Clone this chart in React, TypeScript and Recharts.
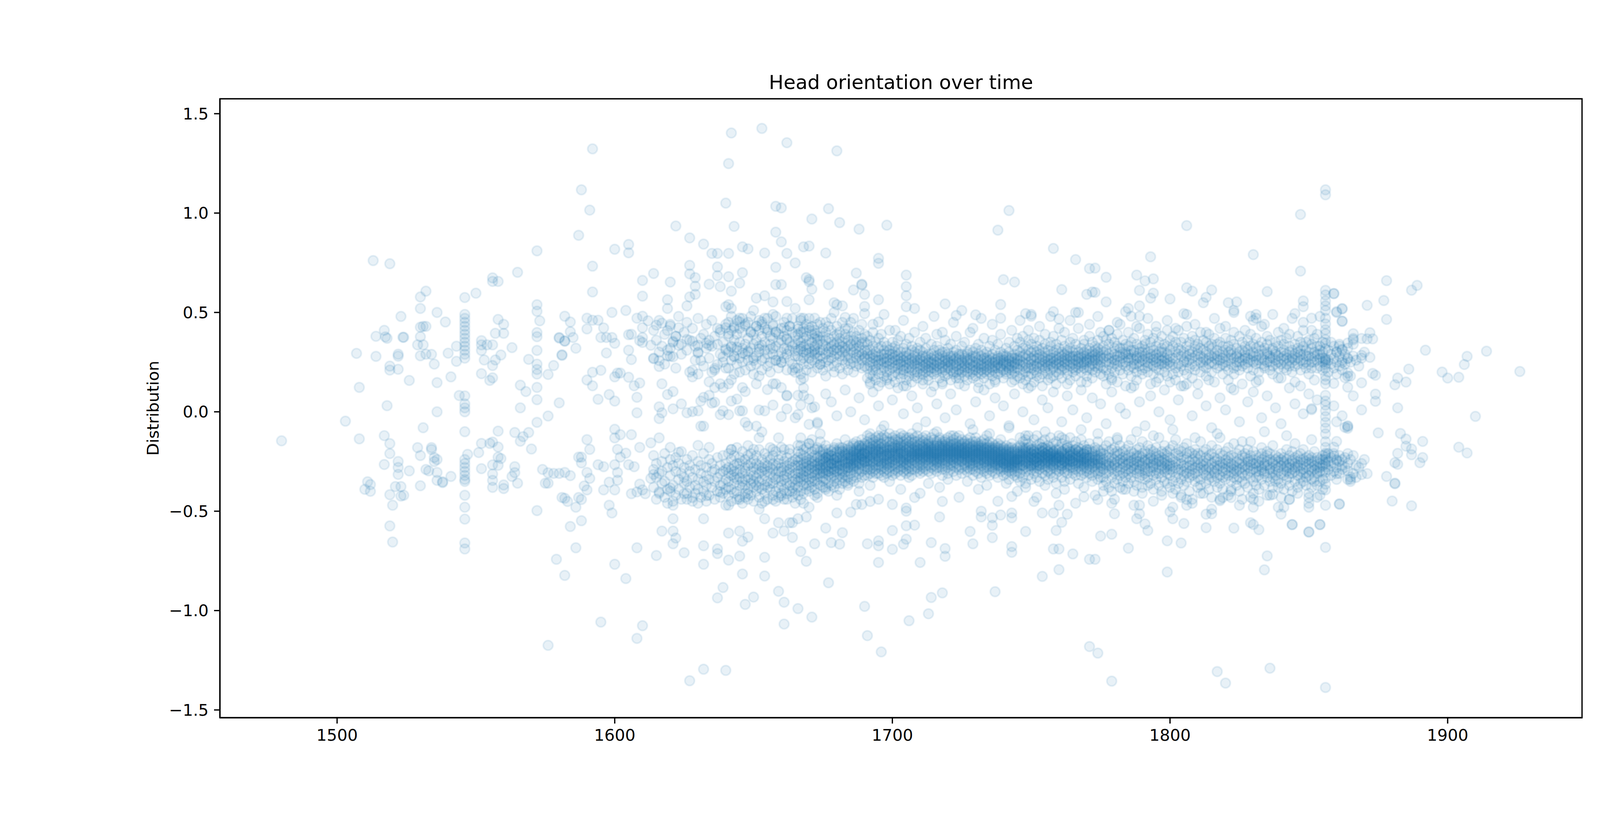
import { ScatterChart, Scatter, XAxis, YAxis, ReferenceArea } from 'recharts';

// axis limits and ticks (matplotlib auto-margins around the data)
const xDomain = [1457.8, 1948.4];
const yDomain = [-1.539, 1.575];
const xTicks = [1500, 1600, 1700, 1800, 1900];
const yTicks = [-1.5, -1.0, -0.5, 0, 0.5, 1.0, 1.5];

// sparse early points, x < 1575
const earlyPoints = [
  [1480, -.146], [1513, .761], [1519, .745], [1503, -.047], [1507, .294], [1508, .123], [1508, -.136], [1514, .38],
  [1517, .41], [1517.4, .377], [1518, .37], [1514, .279], [1519, .23], [1519, .21], [1522, .29], [1522, .28],
  [1522, .214], [1523, .48], [1523.7, .375], [1524, .375], [1526, .158], [1518, .031], [1517, -.12], [1519, -.16],
  [1519, -.21], [1517, -.265], [1522, -.25], [1522, -.28], [1522, -.315], [1521, -.376], [1523, -.376], [1519, -.417],
  [1520, -.47], [1523, -.424], [1524, -.42], [1511, -.352], [1512, -.366], [1510, -.39], [1512, -.4], [1519, -.574],
  [1520, -.655], [1526, -.297], [1529, -.18], [1530, -.22], [1531, -.08], [1530, .52], [1530, .578], [1532, .607],
  [1530, .426], [1531, .43], [1532, .43], [1529, .337], [1531, .337], [1530, .378], [1530, .282], [1532, .29],
  [1534, .289], [1535, .24], [1536, .147], [1536, .5], [1539, .452], [1540, .295], [1541, .176], [1543, .33],
  [1543, .254], [1536, 0], [1534, -.18], [1534, -.19], [1535, -.23], [1535, -.25], [1536, -.24], [1536, -.305],
  [1536, -.345], [1538, -.356], [1538, -.352], [1532, -.29], [1533, -.297], [1530, -.372], [1541, -.325], [1544, .082],
  [1547, -.214], [1550, .597], [1552, .358], [1552, .337], [1552, .309], [1552, .192], [1554, .337], [1556, .337],
  [1553, .261], [1556, .233], [1556, .171], [1555, .158], [1556, .674], [1556, .656], [1558, .656], [1558, .465],
  [1560, .44], [1557, .395], [1560, .395], [1559, .286], [1557, .261], [1563, .323], [1565, .702], [1552, -.159],
  [1551, -.205], [1552, -.286], [1555, -.159], [1556, -.152], [1558, -.097], [1558, -.177], [1558, -.228], [1559, -.235],
  [1556, -.267], [1556, -.313], [1556, -.345], [1556, -.38], [1558, -.269], [1560, -.368], [1560, -.386], [1563, -.325],
  [1564, -.276], [1564, -.306], [1565, -.359], [1564, -.104], [1566, -.148], [1567, -.125], [1569, -.104], [1570, -.187],
  [1573, .458], [1569, .264], [1566, .134], [1568, .102], [1566, .02], [1576, .188], [1578, .233], [1576, -.021],
  [1574, -.29], [1576, -.307], [1576, -.359], [1575, -.359], [1578, -.31], [1580, -.31], [1579, -.742], [1582, -.823],
  [1580, .045], [1580, .371], [1582, .357], [1582, .481], [1581, .284], [1582, -.435],
];

// vertical stacks (same x, many samples)
const col1546 = [.575, .49, .47, .45, .43, .41, .39, .37, .35, .33, .31, .29, .27, .08, .04, .02, 0, -.1, -.24, -.26,
  -.28, -.3, -.32, -.34, -.35, -.42, -.48, -.54, -.66, -.69];
const col1572 = [.81, .539, .506, .399, .378, .309, .24, .213, .19, .123, .061, -.053, -.497];
const col1856 = [1.117, 1.092, .611, .588, .558, .533, .51, .471, .442, .413, .393, .364, .345, .316, .267, .262, .258,
  .25, .238, .219, .18, .161, .141, .083, .054, .034, .005, -.024, -.053, -.082, -.111, -.15, -.179, -.208, -.215,
  -.228, -.24, -.257, -.265, -.276, -.305, -.335, -.364, -.393, -.47, -.682, -1.387];

// 1575 - 1674
const zoneA = [
  [1592, 1.323], [1642, 1.403], [1653, 1.426], [1662, 1.354], [1641, 1.249], [1588, 1.117], [1591, 1.015], [1587, .888],
  [1640, 1.05], [1643, .933], [1658, 1.034], [1660, 1.026], [1671, .97], [1622, .935], [1627, .875], [1632, .844],
  [1658, .904], [1660, .855], [1600, .818], [1605, .842], [1605, .8], [1592, .733], [1592, .603], [1635, .797],
  [1637, .797], [1641, .797], [1646, .83], [1648, .82], [1654, .799], [1662, .797], [1668, .83], [1670, .834],
  [1658, .727], [1658, .64], [1660, .64], [1665, .749], [1627, .737], [1627, .694], [1629, .675], [1629, .632],
  [1629, .591], [1634, .642], [1637, .729], [1637, .685], [1638, .63], [1641, .68], [1642, .607], [1646, .7],
  [1645, .648], [1610, .661], [1610, .582], [1614, .696], [1620, .653], [1619, .564], [1619, .52], [1626, .533],
  [1627, .578], [1641, .539], [1642, .52], [1651, .572], [1654, .584], [1657, .553], [1662, .555], [1665, .52],
  [1668, .471], [1670, .564], [1671, .617], [1669, .675], [1670, .665], [1670, .655],
  [1584, .452], [1584, .403], [1580, .374], [1582, .355], [1585, .374], [1586, .32], [1581, .287],
  [1590, .471], [1590, .417], [1592, .461], [1594, .461], [1596, .422], [1595, .374], [1597, .374], [1599, .5],
  [1599, .374], [1600, .345], [1597, .296], [1592, .199], [1595, .209], [1590, .16], [1592, .131], [1594, .063],
  [1598, .087], [1600, .054], [1600, .176], [1601, .195], [1602, .195], [1604, .51], [1605, .31], [1606, .263],
  [1605, .174], [1607, .131], [1609, .145], [1608, .073], [1608, -.005], [1610, .423], [1608, .471], [1610, .481],
  [1612, .458], [1615, .436], [1617, .446], [1619, .409], [1620, .432], [1623, .423], [1622, .38], [1621, .355],
  [1613, .335], [1610, .374], [1609, .358], [1610, .349], [1606, .39], [1605, .388],
  [1614, .267], [1616, .258], [1616, .228], [1619, .281], [1620, .32], [1621, .277], [1623, .335], [1626, .364],
  [1628, .355], [1630, .335], [1633, .345], [1634, .335], [1630, .296], [1631, .258], [1635, .2], [1636, .219],
  [1637, .238], [1639, .277], [1640, .316], [1642, .326], [1644, .326], [1643, .277], [1646, .296], [1648, .306],
  [1650, .258], [1652, .316], [1653, .335], [1656, .316], [1658, .258], [1660, .248], [1662, .316], [1665, .306],
  [1667, .316], [1670, .296], [1672, .316], [1674, .238], [1664, .209], [1665, .199], [1667, .16], [1668, .17],
  [1638, .413], [1640, .423], [1641, .393], [1643, .423], [1645, .452], [1647, .432], [1649, .403], [1651, .432],
  [1653, .452], [1655, .413], [1657, .432], [1658, .403], [1661, .423], [1662, .364], [1663, .432], [1666, .417],
  [1668, .403], [1670, .423], [1672, .393], [1673, .364], [1640, .529], [1645, .471], [1654, .471], [1650, .51],
  [1657, .49], [1662, .471], [1667, .471], [1672, .471],
  [1617, .141], [1619, .087], [1621, .102], [1616, .025], [1617, -.005], [1616, -.034], [1621, .015], [1624, .04],
  [1626, -.005], [1628, .001], [1630, .005], [1631, .054], [1632, .073], [1634, .083], [1636, .048], [1638, .141],
  [1639, .122], [1641, .141], [1642, .161], [1644, .064], [1646, .122], [1647, .102], [1646, .005], [1647, -.053],
  [1648, -.072], [1639, .005], [1641, -.014], [1642, .054], [1645, .005], [1651, .141], [1652, .18], [1655, .112],
  [1657, .141], [1658, .141], [1660, .122], [1662, .083], [1652, .009], [1654, .005], [1657, .034], [1660, -.024],
  [1662, .015], [1666, .083], [1667, .034], [1668, .083], [1666, -.014], [1670, .064], [1672, .025], [1670, -.063],
  [1673, -.053], [1636, .122], [1634, .151], [1635, .044], [1638, -.014], [1630, .19], [1628, .209], [1628, .176],
  [1631, -.072], [1632, -.072], [1651, -.072], [1653, -.101],
  [1600, -.088], [1600, -.131], [1602, -.115], [1601, -.189], [1606, -.115], [1609, -.179], [1613, -.156], [1616, -.131],
  [1590, -.14], [1591, -.189], [1588, -.228], [1587, -.228],
  [1582, -.305], [1584, -.321], [1588, -.257], [1590, -.305], [1589, -.373], [1590, -.393], [1591, -.335],
  [1594, -.266], [1596, -.276], [1598, -.354], [1600, -.266], [1601, -.305], [1601, -.344], [1602, -.228], [1604, -.208],
  [1605, -.266], [1607, -.276], [1609, -.364], [1610, -.393], [1611, -.412], [1606, -.412], [1608, -.403], [1613, -.335],
  [1614, -.315], [1596, -.393], [1600, -.393], [1586, -.48], [1583, -.451], [1581, -.431], [1588, -.441], [1587, -.431],
  [1598, -.47], [1599, -.509], [1584, -.577], [1588, -.548], [1608, -.684], [1615, -.723], [1586, -.684], [1600, -.767],
  [1604, -.839], [1595, -1.058], [1608, -1.14], [1610, -1.076], [1576, -1.175],
  [1620, -.179], [1623, -.204], [1630, -.169], [1634, -.179], [1642, -.189], [1650, -.189], [1657, -.189], [1660, -.179],
  [1663, -.189], [1666, -.169], [1670, -.16], [1673, -.189], [1652, -.131], [1659, -.131], [1667, -.131], [1671, -.14],
  [1674, -.111],
  [1616, -.403], [1620, -.383], [1621, -.47], [1625, -.412], [1628, -.431], [1630, -.46], [1632, -.538], [1633, -.422],
  [1638, -.403], [1641, -.47], [1645, -.441], [1648, -.412], [1652, -.49], [1654, -.538], [1657, -.441], [1660, -.422],
  [1662, -.412], [1665, -.46], [1667, -.441], [1670, -.48], [1673, -.431], [1659, -.558], [1663, -.558], [1666, -.538],
  [1621, -.538], [1617, -.6], [1621, -.6], [1622, -.635], [1621, -.664], [1625, -.709], [1632, -.674], [1632, -.767],
  [1637, -.69], [1637, -.713], [1641, -.61], [1645, -.6], [1646, -.651], [1648, -.63], [1641, -.746], [1645, -.726],
  [1654, -.732], [1654, -.826], [1646, -.816], [1639, -.884], [1637, -.936], [1650, -.932], [1647, -.969], [1659, -.903],
  [1661, -.958], [1666, -.99], [1671, -1.033], [1661, -1.068], [1657, -.61], [1661, -.6], [1664, -.632], [1667, -.703],
  [1669, -.752], [1672, -.664], [1627, -1.353], [1632, -1.295], [1640, -1.301], [1669, -.529], [1664, -.558],
];

// 1674 - 1772 outliers
const zoneB = [
  [1680, 1.313], [1677, 1.022], [1681, .952], [1688, .919], [1698, .939], [1742, 1.013], [1738, .914], [1758, .822],
  [1766, .766], [1771, .721], [1676, .799], [1695, .772], [1695, .747], [1687, .698], [1689, .642], [1689, .638],
  [1677, .64], [1686, .613], [1690, .591], [1695, .564], [1705, .688], [1705, .63], [1705, .584], [1705, .529],
  [1680, .539], [1682, .533], [1679, .549], [1690, .494], [1683, .475], [1719, .543], [1740, .665], [1744, .653],
  [1761, .615], [1770, .591], [1772, .603], [1758, .504], [1760, .467], [1766, .5], [1730, .488], [1739, .471],
  [1748, .494], [1750, .481], [1723, .485], [1695, .452],
  [1677, -.86], [1690, -.979], [1691, -1.126], [1696, -1.208], [1706, -1.051], [1713, -1.016], [1714, -.934],
  [1718, -.911], [1737, -.905], [1754, -.828], [1760, -.794], [1771, -1.181], [1771, -.742], [1765, -.715], [1758, -.69],
  [1760, -.69], [1743, -.678], [1743, -.707], [1729, -.664], [1728, -.602], [1719, -.688], [1719, -.727], [1714, -.658],
  [1710, -.758], [1705, -.641], [1704, -.666], [1700, -.692], [1695, -.649], [1695, -.674], [1695, -.758], [1691, -.664],
  [1681, -.666], [1678, -.658], [1682, -.608], [1676, -.585], [1680, -.509], [1685, -.505], [1736, -.633], [1748, -.602],
  [1759, -.597], [1761, -.556], [1763, -.515], [1754, -.509], [1758, -.509], [1760, -.47], [1732, -.5], [1732, -.529],
  [1736, -.533], [1736, -.571], [1739, -.519], [1743, -.509], [1743, -.533], [1708, -.57], [1705, -.484], [1705, -.5],
  [1705, -.573], [1700, -.597], [1717, -.529], [1718, -.451], [1708, -.431], [1700, -.466], [1692, -.451], [1689, -.466],
  [1687, -.466], [1751, -.451], [1743, -.426], [1769, -.428],
];

// 1772 - 1871 outliers
const zoneC = [
  [1806, .937], [1793, .78], [1830, .791], [1847, .993], [1847, .708], [1777, .677], [1788, .688], [1791, .659],
  [1794, .669], [1789, .611], [1794, .597], [1793, .572], [1789, .533], [1773, .723], [1773, .601], [1777, .553],
  [1800, .568], [1806, .624], [1808, .607], [1813, .576], [1812, .549], [1815, .613], [1821, .549], [1824, .553],
  [1823, .5], [1835, .605], [1848, .558], [1848, .529], [1859, .595], [1862, .52], [1860, .504], [1862, .455],
  [1831, .49], [1829, .481], [1831, .471], [1784, .504], [1786, .481], [1789, .481], [1805, .494], [1845, .494],
  [1851, .471], [1851, .011], [1851, .016], [1864, -.07], [1864, -.074],
  [1774, -1.214], [1779, -1.355], [1817, -1.307], [1820, -1.365], [1836, -1.29], [1773, -.742], [1785, -.686],
  [1799, -.806], [1835, -.725], [1834, -.795], [1775, -.625], [1779, -.616], [1799, -.649], [1804, -.66], [1792, -.597],
  [1791, -.564], [1788, -.538], [1789, -.513], [1789, -.47], [1780, -.513], [1779, -.46], [1774, -.441], [1800, -.503],
  [1801, -.538], [1805, -.562], [1806, -.441], [1806, -.47], [1813, -.583], [1813, -.515], [1815, -.513], [1823, -.585],
  [1829, -.558], [1830, -.567], [1832, -.593], [1840, -.515], [1841, -.48], [1843, -.441], [1844, -.567], [1850, -.605],
  [1854, -.567], [1850, -.48], [1850, -.431], [1861, -.465], [1818, -.447], [1819, -.431], [1822, -.431], [1830, -.441],
  [1830, -.48], [1837, -.416], [1854, -.568], [1850, -.604], [1844, -.568],
];

// right tail, x > 1856
const lateTail = [
  [1878, .66], [1887, .612], [1889, .636], [1877, .56], [1871, .536], [1878, .465], [1892, .31], [1907, .279],
  [1906, .238], [1914, .305], [1926, .203], [1898, .2], [1900, .17], [1904, .174], [1886, .215], [1882, .17],
  [1885, .15], [1881, .136], [1874, .089], [1874, .053], [1882, .02], [1910, -.023], [1875, -.106], [1883, -.109],
  [1885, -.137], [1885, -.173], [1891, -.149], [1887, -.187], [1887, -.216], [1891, -.23], [1890, -.256], [1904, -.178],
  [1907, -.207], [1881, -.256], [1882, -.209], [1882, -.264], [1878, -.325], [1881, -.359], [1881, -.362], [1880, -.449],
  [1887, -.473], [1871, -.311], [1869, -.316], [1865, -.34], [1864, -.34], [1873, .193], [1874, .184], [1869, .146],
  [1872, .398], [1873, .367], [1871, .367], [1869, .369], [1869, .284], [1872, .274], [1866, .393], [1866, .369],
  [1864, .346], [1866, .362], [1864, .124], [1864, .179], [1862, .517], [1860, .5], [1862, .457], [1862, .315],
  [1859, .595], [1860, .303], [1861, .331], [1864, .267], [1862, .248], [1863, .172], [1864, .196], [1859, .143],
  [1860, -.05], [1863, -.078], [1864, -.083], [1860, -.149], [1859, -.178], [1859, -.221], [1860, -.245], [1864, -.297],
  [1865, -.328], [1860, -.311], [1861, -.463],
];

// the two dense bands: [x, ...y values in hundredths]
const bandColumns = [
  [1614, 41, 27, -29, -38, -22], [1615, 36, -33, -44, -26], [1616, 46, 30, -31, -41], [1617, 33, -25, -36, -30],
  [1618, 39, 24, -35, -43, -21], [1619, 31, -28, -39], [1620, 44, 28, -32, -24, -40], [1621, 35, -37, -27, -45],
  [1622, 38, 22, -30, -42, -23], [1623, 48, -34, -26, -39], [1624, 34, 29, -31, -44, -20], [1625, 40, -36, -28, -33],
  [1626, 45, 31, -24, -41, -35], [1627, 36, 20, -30, -38, -27], [1628, 42, -33, -22, -45], [1629, 33, 26, -37, -29, -41],
  [1630, 47, 30, -25, -34, -39], [1631, 37, -31, -43, -27], [1632, 39, 23, -35, -21, -40], [1633, 32, 44, -28, -37, -32],
  [1634, 36, 27, -42, -24, -34], [1635, 46, 33, -30, -38, -26], [1636, 38, 21, -35, -44, -29], [1637, 34, 42, -23, -33, -40],
  [1638, 40, 29, -37, -27, -43, -31], [1639, 35, 25, -30, -41, -22, -36], [1640, 44, 31, 22, -34, -26, -39, -29],
  [1641, 38, 30, 45, 22, -28, -35, -21, -42, -31, -38], [1642, 33, 41, 26, 48, -32, -24, -39, -29, -45, -19],
  [1643, 36, 28, 43, 19, -27, -36, -33, -22, -41, -30], [1644, 31, 39, 24, 46, -34, -26, -40, -18, -31, -44],
  [1645, 35, 42, 27, 20, -29, -37, -23, -33, -43, -26], [1646, 40, 32, 25, 47, -31, -25, -38, -20, -35, -46],
  [1647, 34, 44, 29, 21, -28, -34, -41, -24, -30, -37], [1648, 37, 30, 45, 26, -33, -22, -39, -27, -44, -17],
  [1649, 32, 40, 23, 48, -26, -36, -30, -42, -21, -34], [1650, 39, 27, 34, 19, -32, -24, -38, -28, -45, -35],
  [1651, 36, 43, 28, 24, -29, -37, -22, -33, -40, -26], [1652, 33, 41, 30, 46, -35, -27, -31, -19, -43, -38],
  [1653, 38, 26, 44, 21, -28, -34, -24, -39, -30, -46], [1654, 35, 31, 42, 27, -32, -26, -37, -21, -41, -29],
  [1655, 40, 29, 23, 47, -27, -35, -30, -44, -23, -38], [1656, 34, 38, 25, 20, -31, -24, -39, -28, -36, -18],
  [1657, 37, 44, 29, 32, -29, -36, -22, -33, -42, -26], [1658, 33, 40, 26, 48, -34, -27, -31, -40, -20, -45],
  [1659, 39, 28, 35, 22, -26, -33, -38, -24, -30, -43], [1660, 36, 42, 30, 25, -30, -22, -35, -28, -41, -37],
  [1661, 32, 38, 45, 27, -28, -34, -25, -39, -32, -19], [1662, 37, 29, 41, 21, -33, -27, -36, -23, -44, -30],
  [1663, 35, 43, 26, 31, -29, -37, -31, -21, -40, -26], [1664, 40, 33, 24, 47, -25, -32, -38, -28, -35, -43],
  [1665, 34, 38, 28, 22, -31, -24, -34, -41, -27, -37],
  [1666, 36, 28, 43, 31, 22, 39, -27, -33, -20, -38, -25, -30, -42, -23, -35],
  [1667, 33, 40, 26, 35, 46, 19, -29, -24, -35, -21, -31, -27, -40, -17, -33],
  [1668, 30, 37, 24, 42, 33, 27, -26, -32, -22, -37, -28, -19, -34, -30, -41],
  [1669, 38, 29, 34, 21, 44, 31, -30, -25, -36, -23, -28, -33, -18, -39, -26],
  [1670, 32, 41, 27, 36, 24, 47, -24, -31, -27, -37, -21, -34, -29, -40, -16],
  [1671, 35, 30, 39, 26, 43, 20, -28, -23, -33, -26, -38, -20, -31, -35, -25],
  [1672, 29, 37, 33, 41, 25, 31, -25, -30, -19, -35, -27, -32, -22, -39, -29],
  [1673, 34, 27, 44, 30, 38, 22, -31, -26, -23, -36, -29, -18, -34, -27, -41],
  [1674, 36, 31, 24, 40, 28, 45, -24, -29, -33, -20, -27, -37, -25, -31, -15],
  [1675, 31, 38, 27, 34, 21, 42, -28, -22, -35, -26, -30, -19, -38, -24, -33],
  [1676, 33, 29, 40, 25, 36, 18, -25, -31, -21, -28, -34, -23, -29, -39, -17],
  [1677, 37, 32, 26, 43, 30, 23, -27, -23, -32, -19, -36, -26, -30, -22, -40],
  [1678, 30, 35, 41, 27, 33, 47, -24, -29, -20, -33, -26, -37, -22, -31, -28],
  [1679, 34, 28, 38, 23, 31, 20, -26, -21, -30, -35, -24, -18, -32, -27, -38],
  [1680, 32, 39, 29, 35, 25, 43, -23, -28, -33, -20, -26, -30, -36, -16, -25],
  [1681, 28, 34, 31, 40, 22, 37, -25, -20, -29, -23, -34, -27, -19, -31, -39],
  [1682, 35, 30, 26, 33, 45, 19, -22, -27, -31, -18, -25, -33, -29, -23, -36],
  [1683, 31, 37, 28, 24, 39, 32, -24, -19, -28, -32, -21, -26, -35, -30, -14],
  [1684, 29, 33, 36, 26, 42, 21, -21, -26, -23, -30, -17, -28, -33, -25, -37],
  [1685, 34, 27, 31, 38, 24, 45, -23, -28, -20, -25, -31, -18, -27, -34, -22],
  [1686, 30, 36, 25, 33, 40, 20, -20, -24, -29, -22, -26, -32, -16, -28, -35],
  [1687, 27, 32, 38, 29, 23, 35, -22, -27, -19, -30, -24, -21, -33, -26, -15],
  [1688, 33, 28, 35, 24, 41, 30, -19, -25, -23, -28, -21, -31, -17, -29, -36],
  [1689, 29, 34, 26, 37, 22, 44, -21, -26, -18, -24, -30, -22, -27, -14, -33],
  [1690, 31, 27, 35, 23, 39, 28, -20, -23, -27, -17, -25, -29, -21, -32, -24],
  [1691, 29, 22, 34, 26, 17, 38, 31, -21, -15, -26, -18, -29, -23, -12, -32, -20, -25, -17, -28, -22],
  [1692, 25, 31, 19, 28, 36, 23, 14, -18, -24, -13, -27, -20, -31, -16, -22, -29, -19, -25, -11, -23],
  [1693, 27, 21, 33, 24, 40, 29, 18, -22, -16, -28, -19, -25, -14, -30, -21, -17, -26, -23, -33, -20],
  [1694, 23, 30, 26, 16, 35, 21, 28, -19, -25, -13, -22, -29, -17, -24, -20, -31, -15, -27, -21, -18],
  [1695, 28, 24, 32, 19, 26, 37, 13, -23, -17, -27, -20, -14, -25, -31, -19, -22, -28, -16, -24, -12],
  [1696, 26, 33, 21, 29, 15, 24, 39, -20, -26, -16, -23, -29, -18, -13, -25, -21, -32, -19, -27, -22],
  [1697, 22, 27, 31, 18, 25, 35, 29, -17, -22, -28, -14, -24, -20, -30, -18, -26, -12, -23, -19, -33],
  [1698, 30, 25, 20, 27, 33, 16, 23, -24, -18, -21, -29, -15, -26, -19, -31, -22, -13, -27, -20, -25],
  [1699, 24, 29, 26, 14, 31, 21, 41, -19, -25, -15, -22, -28, -17, -24, -11, -30, -21, -18, -26, -23],
  [1700, 27, 22, 32, 25, 18, 29, 35, -21, -16, -27, -19, -24, -13, -30, -22, -18, -25, -32, -20, -15],
  [1701, 23, 28, 20, 33, 26, 15, 30, -18, -23, -14, -26, -20, -29, -17, -22, -12, -27, -21, -31, -24],
  [1702, 26, 31, 22, 19, 28, 36, 24, -22, -17, -25, -20, -28, -15, -23, -19, -30, -14, -26, -21, -18],
  [1703, 21, 27, 24, 30, 17, 25, 38, -16, -21, -27, -18, -24, -13, -29, -20, -23, -17, -32, -25, -19],
  [1704, 28, 23, 19, 26, 32, 21, 13, -20, -25, -15, -22, -28, -18, -23, -12, -26, -21, -30, -17, -24],
  [1705, 25, 30, 22, 27, 16, 34, 28, -23, -18, -26, -14, -21, -29, -19, -24, -16, -27, -22, -31, -13],
  [1706, 22, 26, 29, 20, 24, 37, 18, -17, -22, -19, -27, -24, -13, -20, -25, -30, -18, -23, -15, -28],
  [1707, 27, 21, 25, 31, 23, 15, 33, -21, -16, -24, -19, -29, -22, -14, -26, -18, -23, -32, -20, -11],
  [1708, 24, 28, 20, 26, 30, 18, 40, -19, -24, -17, -22, -13, -27, -20, -25, -15, -21, -29, -23, -18],
  [1709, 20, 25, 29, 23, 17, 32, 26, -22, -18, -26, -15, -23, -20, -28, -17, -24, -12, -21, -30, -19],
  [1710, 26, 22, 31, 19, 27, 24, 35, -17, -23, -20, -27, -14, -22, -19, -25, -16, -29, -21, -24, -31],
  [1711, 23, 28, 21, 25, 14, 30, 19, -20, -15, -24, -18, -28, -22, -13, -26, -19, -23, -17, -30, -21],
  [1712, 27, 20, 24, 32, 22, 28, 37, -18, -22, -16, -25, -20, -29, -14, -23, -19, -27, -21, -12, -24],
  [1713, 21, 26, 23, 18, 29, 25, 16, -23, -17, -21, -27, -15, -24, -20, -30, -18, -22, -26, -16, -19],
  [1714, 25, 29, 22, 27, 20, 34, 24, -16, -21, -25, -19, -23, -13, -28, -20, -17, -24, -31, -22, -18],
  [1715, 22, 24, 28, 19, 26, 31, 13, -19, -24, -17, -22, -27, -20, -14, -25, -21, -18, -29, -23, -11],
  [1716, 28, 23, 20, 25, 33, 21, 39, -21, -16, -26, -19, -23, -28, -17, -22, -15, -25, -20, -30, -24],
  [1717, 24, 27, 22, 17, 29, 26, 31, -17, -22, -19, -25, -14, -21, -27, -18, -24, -20, -13, -28, -23],
  [1718, 20, 25, 28, 23, 15, 30, 22, -22, -18, -24, -16, -20, -26, -21, -29, -17, -23, -19, -32, -15],
  [1719, 26, 21, 24, 30, 27, 18, 36, -19, -23, -15, -21, -27, -18, -24, -20, -14, -26, -22, -17, -29],
  [1720, 23, 29, 19, 26, 22, 32, 25, -20, -16, -24, -22, -18, -28, -13, -23, -19, -25, -21, -31, -17],
  [1721, 27, 24, 21, 28, 16, 25, 34, -18, -22, -20, -26, -15, -23, -19, -29, -21, -17, -24, -12, -27],
  [1722, 22, 26, 30, 20, 24, 19, 28, -21, -17, -25, -19, -23, -14, -27, -20, -22, -18, -30, -24, -16],
  [1723, 25, 20, 27, 23, 31, 17, 38, -16, -21, -18, -24, -20, -26, -22, -13, -28, -19, -23, -17, -32],
  [1724, 21, 28, 24, 26, 19, 29, 14, -20, -24, -17, -22, -19, -27, -15, -23, -21, -29, -18, -25, -12],
  [1725, 26, 23, 20, 29, 25, 33, 22, -23, -18, -21, -16, -25, -20, -28, -17, -22, -24, -19, -31, -14],
  [1726, 24, 27, 21, 18, 28, 23, 35, -19, -23, -15, -21, -26, -18, -24, -20, -29, -16, -22, -27, -21],
  [1727, 20, 25, 29, 22, 26, 16, 30, -21, -17, -24, -19, -22, -28, -14, -25, -20, -23, -18, -30, -16],
  [1728, 27, 22, 24, 31, 19, 26, 40, -18, -22, -20, -25, -16, -23, -27, -19, -21, -13, -26, -24, -29],
  [1729, 23, 28, 20, 25, 30, 21, 17, -22, -19, -26, -17, -23, -20, -29, -15, -24, -21, -18, -27, -32],
  [1730, 25, 21, 27, 23, 18, 32, 28, -20, -24, -18, -22, -15, -27, -21, -25, -19, -30, -23, -17, -13],
  [1731, 22, 26, 24, 29, 20, 15, 34, -17, -21, -25, -19, -23, -28, -16, -22, -26, -20, -31, -24, -18],
  [1732, 28, 23, 21, 26, 31, 24, 19, -23, -18, -21, -27, -20, -15, -24, -19, -29, -22, -17, -26, -33],
  [1733, 24, 20, 27, 22, 29, 17, 37, -19, -24, -16, -22, -26, -20, -28, -18, -23, -14, -25, -21, -30],
  [1734, 21, 26, 23, 30, 25, 19, 27, -22, -18, -25, -20, -28, -23, -16, -27, -21, -31, -19, -24, -12],
  [1735, 26, 22, 28, 20, 24, 33, 14, -20, -25, -19, -23, -17, -29, -22, -26, -18, -24, -32, -21, -15],
  [1736, 23, 27, 21, 25, 18, 29, 36, -24, -19, -22, -27, -21, -16, -25, -20, -30, -23, -18, -28, -26],
  [1737, 25, 20, 26, 23, 31, 22, 16, -21, -26, -18, -23, -28, -20, -24, -17, -27, -22, -31, -19, -25],
  [1738, 22, 28, 24, 19, 27, 34, 25, -23, -20, -27, -21, -25, -18, -29, -24, -16, -26, -22, -33, -19],
  [1739, 27, 23, 20, 26, 22, 30, 39, -20, -24, -22, -28, -19, -25, -21, -30, -23, -17, -27, -24, -14],
  [1740, 24, 26, 29, 21, 25, 17, 28, -25, -21, -19, -26, -23, -29, -20, -24, -18, -28, -22, -32, -26],
  [1741, 20, 25, 23, 28, 24, 32, 19, -22, -26, -20, -24, -29, -21, -27, -19, -25, -23, -31, -17, -28],
  [1742, 26, 22, 27, 24, 30, 21, 35, -24, -20, -27, -22, -25, -18, -28, -23, -30, -21, -26, -34, -19],
  [1743, 23, 28, 21, 25, 19, 27, 15, -21, -25, -23, -28, -20, -26, -24, -31, -22, -18, -27, -29, -16],
  [1744, 25, 22, 29, 24, 27, 20, 33, -23, -27, -21, -25, -30, -22, -26, -19, -28, -24, -32, -20, -25],
  [1745, 24, 27, 22, 26, 31, 18, 37, -20, -24, -26, -22, -28, -23, -30, -21, -27, -25, -18, -33, -24],
  [1746, 26, 21, 30, 24, 17, 35, 28, -22, -17, -27, -20, -31, -24, -13, -28, -35],
  [1747, 23, 28, 19, 32, 25, 14, 38, -25, -19, -29, -15, -23, -33, -21, -27, -18],
  [1748, 29, 24, 33, 20, 27, 22, 16, -20, -26, -14, -30, -22, -18, -28, -24, -36],
  [1749, 25, 31, 22, 36, 18, 28, 41, -23, -18, -27, -21, -32, -16, -25, -29, -12],
  [1750, 22, 27, 30, 24, 34, 19, 26, -26, -21, -17, -29, -23, -34, -19, -27, -24],
  [1751, 28, 23, 26, 15, 31, 21, 37, -19, -25, -22, -28, -14, -24, -31, -20, -27],
  [1752, 24, 30, 20, 27, 23, 33, 18, -23, -27, -17, -21, -30, -25, -12, -28, -33],
  [1753, 27, 22, 29, 25, 36, 17, 31, -21, -16, -26, -23, -29, -19, -35, -24, -27],
  [1754, 23, 26, 32, 19, 28, 24, 13, -25, -20, -28, -15, -22, -31, -26, -18, -23],
  [1755, 30, 25, 21, 27, 34, 22, 39, -18, -24, -21, -27, -32, -23, -14, -29, -26],
  [1756, 24, 28, 23, 31, 19, 26, 16, -22, -28, -19, -25, -17, -30, -23, -34, -20],
  [1757, 26, 21, 29, 24, 35, 27, 33, -27, -21, -24, -13, -29, -22, -26, -18, -31],
  [1758, 22, 27, 25, 30, 18, 23, 38, -20, -25, -16, -28, -23, -33, -21, -27, -24],
  [1759, 28, 24, 31, 20, 26, 34, 14, -24, -19, -29, -22, -26, -15, -31, -23, -36],
  [1760, 25, 29, 22, 27, 32, 19, 24, -21, -27, -23, -18, -30, -25, -12, -28, -22],
  [1761, 23, 26, 30, 21, 28, 36, 17, -26, -20, -24, -29, -16, -23, -33, -21, -27],
  [1762, 29, 22, 25, 33, 24, 27, 40, -19, -25, -22, -28, -24, -14, -30, -26, -35],
  [1763, 24, 30, 21, 26, 19, 31, 28, -23, -18, -27, -21, -31, -25, -17, -29, -24],
  [1764, 27, 23, 28, 35, 25, 16, 32, -25, -22, -19, -28, -24, -34, -20, -27, -13],
  [1765, 22, 28, 26, 24, 30, 20, 37, -20, -26, -23, -17, -29, -22, -31, -25, -28],
  [1766, 26, 31, 23, 28, 21, 34, 18, -24, -19, -27, -22, -32, -15, -26, -29, -21],
  [1767, 28, 24, 30, 22, 27, 25, 42, -22, -27, -18, -25, -23, -30, -20, -36, -26],
  [1768, 23, 27, 25, 32, 20, 29, 15, -26, -21, -24, -29, -19, -27, -14, -23, -32],
  [1769, 30, 25, 22, 28, 34, 24, 36, -21, -25, -28, -20, -24, -31, -23, -17, -27],
  [1770, 25, 29, 27, 21, 31, 18, 26, -24, -20, -26, -22, -30, -25, -33, -19, -28],
  [1771, 27, 23, 32, 26, 29, 22, 38, -22, -27, -19, -25, -29, -23, -16, -31, -26],
  [1772, 24, 30, 26, 35, 21, 28, 17, -25, -21, -28, -23, -26, -32, -20, -35, -24],
  [1773, 29, 26, 23, 31, 27, 20, 33, -23, -27, -20, -29, -24, -18, -30, -26, -22],
  [1774, 26, 32, 28, 24, 36, 22, 30, -26, -22, -25, -31, -19, -28, -24, -34, -15],
  [1775, 28, 25, 31, 23, 27, 19, 40, -24, -28, -21, -26, -30, -23, -33, -20, -27],
  [1776, 27, 33, 22, 30, 18, 38, -24, -19, -29, -26, -33, -21, -37],
  [1777, 31, 25, 36, 21, 28, 14, -22, -27, -17, -31, -25, -35, -28],
  [1778, 24, 29, 19, 34, 27, 41, -26, -20, -30, -23, -38, -27, -15],
  [1779, 30, 22, 27, 37, 25, 17, -23, -29, -25, -19, -33, -28, -40],
  [1780, 26, 32, 24, 20, 35, 29, -27, -21, -31, -24, -18, -36, -26],
  [1781, 28, 23, 33, 26, 39, 15, -25, -30, -22, -28, -34, -20, -13],
  [1782, 25, 30, 21, 28, 32, 44, -21, -26, -32, -24, -29, -17, -38],
  [1783, 32, 27, 24, 36, 19, 29, -28, -23, -26, -35, -20, -31, -25],
  [1784, 23, 29, 34, 25, 30, 13, -24, -30, -19, -27, -33, -22, -39],
  [1785, 29, 21, 27, 33, 26, 40, -26, -22, -29, -17, -31, -25, -36],
  [1786, 27, 35, 23, 29, 18, 31, -23, -28, -25, -33, -20, -30, -14],
  [1787, 31, 26, 30, 22, 37, 24, -29, -24, -21, -27, -35, -26, -40],
  [1788, 24, 28, 20, 34, 27, 16, -25, -31, -23, -19, -28, -37, -22],
  [1789, 30, 25, 32, 27, 23, 42, -22, -27, -33, -25, -30, -18, -29],
  [1790, 26, 33, 28, 21, 30, 19, -27, -23, -26, -32, -21, -38, -15],
  [1791, 28, 22, 25, 36, 31, 34, -24, -29, -20, -28, -34, -25, -31],
  [1792, 25, 30, 27, 23, 20, 39, -26, -21, -30, -24, -17, -33, -37],
  [1793, 32, 27, 24, 29, 35, 14, -23, -28, -25, -36, -22, -30, -19],
  [1794, 23, 31, 28, 26, 19, 37, -28, -24, -32, -20, -27, -39, -26],
  [1795, 29, 25, 33, 22, 27, 43, -21, -26, -29, -23, -34, -18, -31],
  [1796, 27, 30, 21, 35, 24, 17, -25, -31, -22, -28, -24, -37, -13],
  [1797, 24, 28, 32, 26, 30, 38, -29, -23, -27, -33, -20, -25, -40],
  [1798, 30, 23, 27, 20, 34, 25, -24, -28, -21, -30, -26, -35, -17],
  [1799, 26, 33, 24, 29, 18, 41, -27, -22, -31, -25, -36, -20, -29],
  [1800, 28, 25, 31, 23, 36, 15, -23, -29, -26, -19, -32, -27, -38],
  [1801, 27, 33, 19, 38, 24, -24, -30, -17, -35, -27, -41], [1802, 30, 22, 35, 16, 27, -28, -21, -33, -25, -39, -14],
  [1803, 24, 29, 41, 20, 32, -22, -31, -26, -36, -19, -29], [1804, 28, 35, 23, 31, 13, -26, -20, -34, -29, -42, -23],
  [1805, 21, 26, 30, 37, 25, -30, -24, -18, -27, -37, -32], [1806, 33, 25, 28, 19, 43, -23, -28, -35, -21, -31, -16],
  [1807, 26, 31, 22, 35, 29, -27, -33, -25, -40, -20, -30], [1808, 30, 24, 38, 27, 17, -21, -29, -24, -32, -27, -44],
  [1809, 23, 28, 33, 21, 36, -31, -25, -19, -35, -28, -22], [1810, 29, 34, 26, 14, 31, -24, -30, -27, -38, -21, -33],
  [1811, 25, 20, 32, 28, 40, -28, -22, -34, -26, -15, -37], [1812, 31, 27, 23, 36, 25, -25, -31, -20, -29, -41, -27],
  [1813, 22, 30, 35, 26, 18, -29, -23, -36, -26, -32, -19], [1814, 27, 33, 24, 39, 29, -22, -28, -31, -24, -39, -34],
  [1815, 32, 25, 28, 20, 34, -26, -33, -21, -29, -17, -43], [1816, 24, 29, 37, 27, 15, -31, -25, -28, -35, -23, -30],
  [1817, 28, 22, 31, 34, 26, -24, -29, -19, -33, -27, -38], [1818, 26, 35, 23, 29, 42, -27, -21, -32, -25, -36, -13],
  [1819, 30, 27, 19, 33, 24, -22, -30, -26, -39, -28, -33], [1820, 23, 31, 28, 25, 37, -29, -24, -34, -20, -31, -26],
  [1821, 33, 26, 21, 30, 16, -25, -32, -23, -28, -42, -18], [1822, 27, 29, 36, 24, 31, -28, -22, -30, -35, -26, -39],
  [1823, 22, 34, 27, 19, 40, -23, -29, -27, -33, -16, -31], [1824, 29, 25, 32, 28, 23, -30, -25, -21, -37, -28, -34],
  [1825, 25, 30, 38, 21, 27, -26, -33, -24, -29, -40, -19], [1826, 31, 23, 26, 35, 14, -22, -28, -35, -26, -31, -44],
  [1827, 24, 28, 33, 27, 30, -29, -23, -27, -32, -21, -36], [1828, 27, 36, 22, 31, 25, -25, -31, -19, -28, -38, -24],
  [1829, 33, 26, 29, 18, 39, -27, -22, -33, -30, -25, -15], [1830, 21, 30, 25, 34, 28, -24, -29, -26, -35, -20, -41],
  [1831, 28, 24, 37, 26, 32, -30, -26, -22, -33, -28, -37], [1832, 26, 33, 20, 29, 16, -23, -32, -27, -25, -39, -30],
  [1833, 31, 27, 24, 35, 43, -28, -21, -34, -29, -24, -18], [1834, 23, 29, 32, 26, 22, -26, -30, -23, -37, -31, -27],
  [1835, 29, 34, 25, 30, 38, -22, -27, -33, -25, -42, -20], [1836, 25, 21, 28, 36, 27, -31, -24, -28, -21, -35, -29],
  [1837, 32, 27, 23, 31, 19, -25, -33, -26, -30, -17, -38], [1838, 24, 30, 35, 26, 29, -29, -22, -35, -27, -32, -24],
  [1839, 28, 25, 22, 33, 40, -23, -30, -25, -38, -28, -34], [1840, 30, 36, 27, 24, 17, -27, -24, -31, -21, -36, -43],
  [1841, 22, 28, 31, 26, 34, -32, -26, -23, -29, -25, -39], [1842, 27, 24, 37, 29, 21, -24, -30, -28, -34, -19, -27],
  [1843, 33, 26, 23, 30, 39, -28, -22, -33, -26, -37, -31], [1844, 25, 31, 28, 20, 27, -25, -31, -20, -29, -24, -40],
  [1845, 29, 23, 34, 26, 15, -30, -26, -35, -23, -28, -16], [1846, 24, 32, 27, 38, 30, -22, -28, -25, -32, -38, -27],
  [1847, 31, 26, 21, 29, 35, -27, -33, -24, -30, -21, -36], [1848, 26, 29, 33, 24, 41, -24, -29, -31, -26, -35, -19],
  [1849, 22, 35, 28, 31, 25, -31, -23, -28, -37, -25, -33], [1850, 28, 24, 30, 19, 36, -26, -32, -22, -29, -41, -24],
  [1851, 32, 27, 25, 34, 22, -23, -28, -34, -25, -30, -38], [1852, 25, 30, 37, 28, 16, -29, -25, -27, -33, -20, -35],
  [1853, 29, 22, 26, 33, 39, -25, -31, -23, -28, -37, -30], [1854, 23, 33, 29, 27, 31, -28, -24, -35, -30, -26, -42],
  [1855, 27, 25, 35, 21, 30, -24, -30, -27, -22, -34, -39],
  [1857, 26, 31, 20, -25, -29, -21], [1858, 24, 29, 35, -23, -27, -32], [1859, 27, 22, 33, -26, -21, -30],
  [1860, 25, 30, 19, -24, -28, -34], [1861, 28, 23, 34, -25, -22, -31], [1862, 26, 31, 21, -27, -24, -29],
  [1863, 24, 29, -23, -28], [1864, 27, 32, -26, -21], [1865, 25, 18, -24, -35], [1866, 28, 34, -22, -31],
  [1867, 26, -27, -33], [1868, 23, -28], [1869, 27, -26], [1870, 30, -24],
];

// extra lower-band samples either side of the darkest stretch: [x, ...y in hundredths]
const shoulderColumns = [
  [1674, -22, -28], [1675, -25, -31, -20], [1676, -27, -23], [1677, -24, -30, -21], [1678, -22, -26],
  [1679, -19, -29, -24], [1680, -23, -27], [1681, -21, -26, -18], [1682, -24, -30, -20], [1683, -20, -25, -22],
  [1684, -22, -28, -19], [1685, -19, -24, -26], [1686, -21, -27, -17, -23], [1687, -18, -23, -25, -20],
  [1688, -20, -26, -22, -17], [1689, -22, -17, -24, -19], [1690, -19, -25, -21, -16],
  [1746, -21, -25, -18, -23], [1747, -20, -24, -27, -22], [1748, -23, -19, -25, -21], [1749, -22, -26, -20, -24],
  [1750, -19, -23, -27, -21], [1751, -24, -20, -22, -26], [1752, -21, -25, -19, -23], [1753, -23, -20, -27, -22],
  [1754, -20, -24, -22, -18], [1755, -25, -21, -23, -19], [1756, -22, -26, -20, -24], [1757, -19, -23, -21, -25],
  [1758, -24, -20, -26, -22], [1759, -21, -25, -23], [1760, -23, -19, -22], [1761, -20, -24, -27],
  [1762, -25, -21, -23], [1763, -22, -18, -26], [1764, -24, -20, -22], [1765, -21, -25], [1766, -23, -19],
  [1767, -20, -24], [1768, -25, -22], [1769, -21, -26], [1770, -23, -19],
];

// sparse points between and around the bands: [x, y in hundredths]
const fringePoints = [
  [1662, 8], [1665, -3], [1668, 12], [1671, 2], [1673, -6], [1676, 9], [1678, 5], [1680, -2], [1683, 11], [1685, 0],
  [1688, 7], [1690, -4], [1693, 10], [1695, 3], [1697, -7], [1700, 6], [1702, 12], [1704, -1], [1707, 8], [1709, 2],
  [1712, -5], [1714, 10], [1716, 4], [1719, -3], [1721, 9], [1723, 1], [1726, 13], [1728, -6], [1730, 5], [1733, 11],
  [1735, -2], [1737, 7], [1740, 3], [1742, -8], [1744, 9], [1747, 0], [1749, 12], [1751, -4], [1754, 6], [1756, 2],
  [1758, 10], [1761, -5], [1763, 8], [1765, 1], [1768, 11], [1770, -3], [1772, 7], [1775, 4], [1777, -6], [1779, 10],
  [1782, 2], [1784, -1], [1786, 12], [1789, 5], [1791, -7], [1793, 8], [1796, 0], [1798, 11], [1800, -4], [1803, 6],
  [1805, 13], [1808, -2], [1810, 9], [1813, 3], [1815, -8], [1818, 7], [1820, 1], [1823, 11], [1825, -5], [1828, 5],
  [1830, 10], [1833, -3], [1835, 8], [1838, 2], [1840, -6], [1843, 12], [1845, 4], [1848, -1], [1850, 9], [1853, 6],
  [1859, 3], [1862, -2], [1866, 8], [1869, 1],
  [1676, 45], [1679, 50], [1683, 42], [1686, 47], [1690, 53], [1693, 44], [1697, 49], [1701, 41], [1704, 46], [1708, 52],
  [1711, 43], [1715, 48], [1718, 40], [1722, 45], [1725, 51], [1729, 42], [1732, 47], [1736, 44], [1739, 54], [1743, 41],
  [1746, 46], [1750, 49], [1753, 43], [1757, 48], [1760, 42], [1764, 46], [1767, 50], [1771, 44], [1774, 48], [1778, 41],
  [1781, 45], [1785, 52], [1788, 43], [1792, 47], [1795, 40], [1799, 46], [1802, 42], [1806, 49], [1809, 44], [1813, 40],
  [1816, 47], [1820, 43], [1823, 51], [1827, 41], [1830, 46], [1834, 44], [1837, 49], [1841, 42], [1844, 47], [1848, 45],
  [1851, 41], [1854, 48],
  [1692, 15], [1698, 17], [1705, 13], [1711, 16], [1718, 14], [1724, 17], [1731, 12], [1737, 15], [1744, 16], [1750, 13],
  [1757, 17], [1763, 14], [1770, 15], [1779, 16], [1787, 13], [1795, 15], [1806, 14], [1814, 16], [1822, 12], [1831, 15],
  [1839, 17], [1847, 13],
  [1696, -9], [1703, -11], [1709, -8], [1716, -10], [1722, -12], [1729, -9], [1735, -11], [1742, -7], [1748, -12],
  [1755, -10], [1761, -13], [1768, -9], [1774, -11], [1781, -14], [1788, -10], [1794, -12], [1801, -9], [1809, -13],
  [1817, -11], [1826, -15], [1834, -10], [1842, -12], [1851, -14],
  [1676, -38], [1680, -42], [1684, -36], [1688, -40], [1692, -37], [1695, -44], [1699, -35], [1703, -39], [1706, -33],
  [1710, -41], [1713, -36], [1717, -38], [1720, -34], [1724, -43], [1727, -35], [1731, -39], [1734, -37], [1738, -45],
  [1741, -36], [1745, -40], [1748, -38], [1752, -43], [1755, -37], [1759, -41], [1762, -39], [1766, -46], [1769, -38],
  [1773, -42], [1776, -40], [1780, -44], [1783, -39], [1787, -47], [1790, -41], [1794, -45], [1797, -42], [1801, -48],
  [1804, -43], [1808, -46], [1811, -41], [1815, -49], [1818, -44], [1822, -40], [1825, -47], [1829, -43], [1832, -45],
  [1836, -42], [1839, -48], [1843, -44], [1846, -41], [1850, -46], [1853, -43], [1661, -44], [1664, -40], [1668, -46],
  [1672, -42], [1654, -45], [1647, -43], [1640, -47], [1633, -45], [1626, -44], [1619, -46],
];

const points = [
  ...earlyPoints.map(([x, y]) => ({ x, y })),
  ...col1546.map((y) => ({ x: 1546, y })),
  ...col1572.map((y) => ({ x: 1572, y })),
  ...col1856.map((y) => ({ x: 1856, y })),
  ...zoneA.map(([x, y]) => ({ x, y })),
  ...zoneB.map(([x, y]) => ({ x, y })),
  ...zoneC.map(([x, y]) => ({ x, y })),
  ...lateTail.map(([x, y]) => ({ x, y })),
  ...bandColumns.flatMap(([x, ...ys]) => ys.map((v) => ({ x, y: v / 100 }))),
  ...shoulderColumns.flatMap(([x, ...ys]) => ys.map((v) => ({ x, y: v / 100 }))),
  ...fringePoints.map(([x, v]) => ({ x, y: v / 100 })),
];

const FONT = 'DejaVu Sans, sans-serif';
const BLUE = '#1f77b4';

const fmtY = (v: number) => (v < 0 ? '\u2212' : '') + Math.abs(v).toFixed(1);

const Dot = (p: any) => (
  <circle cx={p.cx} cy={p.cy} r={12.5} fill={BLUE} fillOpacity={0.1} stroke={BLUE} strokeOpacity={0.1} strokeWidth={4.2} />
);

export default function App() {
  const tick = { fill: '#000', fontSize: 41.7, fontFamily: FONT };
  const line = { stroke: '#000', strokeWidth: 3.3 };
  return (
    <div style={{ position: 'absolute', left: 0, top: 0, width: 4500, height: 2100, background: '#fff' }}>
      <ScatterChart width={4500} height={2100} margin={{ top: 253, right: 450, bottom: 162, left: 413 }}>
        <XAxis
          dataKey="x"
          type="number"
          domain={xDomain}
          ticks={xTicks}
          allowDataOverflow
          height={100}
          tickSize={15}
          tickMargin={14}
          tick={tick}
          axisLine={line}
          tickLine={line}
        />
        <YAxis
          dataKey="y"
          type="number"
          domain={yDomain}
          ticks={yTicks}
          allowDataOverflow
          width={150}
          tickSize={15}
          tickMargin={14}
          tick={tick}
          tickFormatter={fmtY}
          axisLine={line}
          tickLine={line}
        />
        <Scatter data={points} shape={Dot} isAnimationActive={false} />
        <ReferenceArea
          x1={xDomain[0]}
          x2={xDomain[1]}
          y1={yDomain[0]}
          y2={yDomain[1]}
          fill="none"
          stroke="#000"
          strokeWidth={3.3}
          ifOverflow="visible"
        />
      </ScatterChart>
      <svg width={4500} height={2100} style={{ position: 'absolute', left: 0, top: 0, pointerEvents: 'none' }}>
        <text x={2306.5} y={228} textAnchor="middle" fontFamily={FONT} fontSize={50} fill="#000">
          Head orientation over time
        </text>
        <text
          x={406}
          y={1045.5}
          transform="rotate(-90 406 1045.5)"
          textAnchor="middle"
          fontFamily={FONT}
          fontSize={41.7}
          fill="#000"
        >
          Distribution
        </text>
      </svg>
    </div>
  );
}
